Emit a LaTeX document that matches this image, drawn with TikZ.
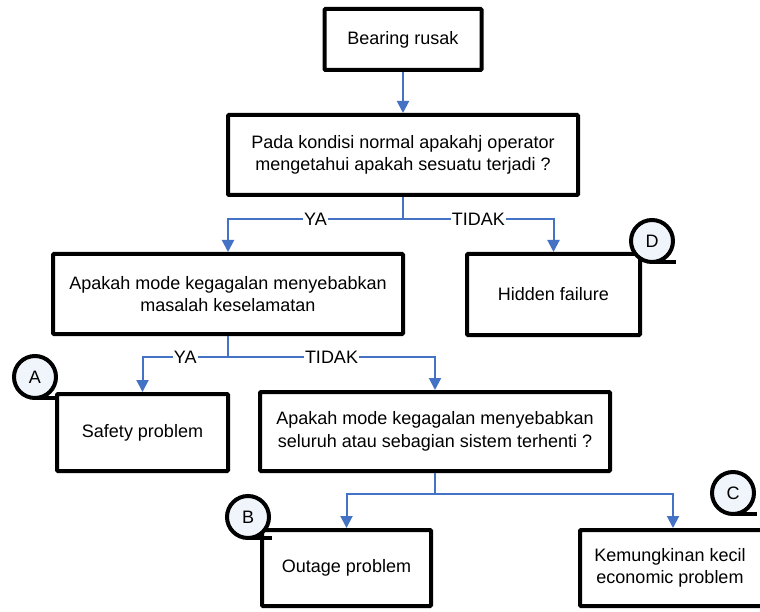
\documentclass[tikz,border=0pt]{standalone}
\usepackage{fontspec}
\setmainfont{Liberation Sans}
\usetikzlibrary{arrows.meta}
\definecolor{arrblue}{HTML}{4472C4}
\definecolor{circfill}{HTML}{F0F4FB}
\begin{document}
\begin{tikzpicture}[x=1pt,y=-1pt,
  box/.style={draw=black, line width=4pt, rounded corners=1pt, fill=white, align=center,
    inner sep=0pt, font=\fontsize{18}{22.5}\selectfont},
  txt/.style={align=center, inner sep=0pt, font=\fontsize{18}{22.5}\selectfont},
  conn/.style={draw=arrblue, line width=2pt},
  arr/.style={conn, -{Triangle[width=12pt,length=12pt]}},
  lbl/.style={fill=white, inner sep=1pt, font=\fontsize{18}{20}\selectfont},
  tape/.style={draw=black, line width=4pt, fill=circfill, circle, minimum size=42pt, inner sep=0pt,
    font=\fontsize{18}{20}\selectfont},
  tail/.style={draw=black, line width=4pt}
]
\clip (0,0) rectangle (760,612);
\fill[white] (0,0) rectangle (760,612);

\node[box, minimum width=157pt, minimum height=61pt] (b1) at (403,39.5) {Bearing rusak};
\node[box, minimum width=350pt, minimum height=80pt] (b2) at (403,155)
  {Pada kondisi normal apakahj operator\\mengetahui apakah sesuatu terjadi ?};
\node[box, minimum width=350pt, minimum height=80pt] (b3) at (228,294)
  {Apakah mode kegagalan menyebabkan\\masalah keselamatan};
\node[box, minimum width=173pt, minimum height=81pt] (b4) at (553.5,294.5) {Hidden failure};
\node[box, minimum width=171pt, minimum height=77pt] (b5) at (142.5,432.5) {Safety problem};
\node[box, minimum width=350pt, minimum height=79pt] (b6) at (435,431.5)
  {Apakah mode kegagalan menyebabkan\\seluruh atau sebagian sistem terhenti ?};
\node[box, minimum width=169pt, minimum height=76pt] (b7) at (346.5,568) {Outage problem};
\node[box, minimum width=186pt, minimum height=76pt] (b8) at (673,568) {};
\node[txt] (t8) at (670,568) {Kemungkinan kecil\\economic problem};

% connectors
\draw[arr] (b1.south) -- (b1.south |- b2.north);
\draw[conn] (b2.south) -- ++(0,22) coordinate (j1);
\draw[arr] (j1) -- (j1 -| b3.north) node[lbl,midway]{YA} -- (b3.north);
\draw[arr] (j1) -- (j1 -| b4.north) node[lbl,midway]{TIDAK} -- (b4.north);
\draw[conn] (b3.south) -- ++(0,21) coordinate (j2);
\draw[arr] (j2) -- (j2 -| b5.north) node[lbl,midway]{YA} -- (b5.north);
\draw[arr] (j2) -- (j2 -| b6.north) node[lbl,midway]{TIDAK} -- (b6.north);
\draw[conn] (b6.south) -- ++(0,21) coordinate (j3);
\draw[arr] (j3) -- (j3 -| b7.north) -- (b7.north);
\draw[arr] (j3) -- (j3 -| b8.north) -- (b8.north);

% tape-like markers
\node[tape] (cA) at (35,377) {A};
\draw[tail] (cA.center) ++(0,21) -- ++(24,0);
\node[tape] (cB) at (248,517) {B};
\draw[tail] (cB.center) ++(0,21) -- ++(24,0);
\node[tape] (cC) at (733,493) {C};
\draw[tail] (cC.center) ++(0,21) -- ++(24,0);
\node[tape] (cD) at (652,241) {D};
\draw[tail] (cD.center) ++(0,21) -- ++(24,0);
\end{tikzpicture}
\end{document}
